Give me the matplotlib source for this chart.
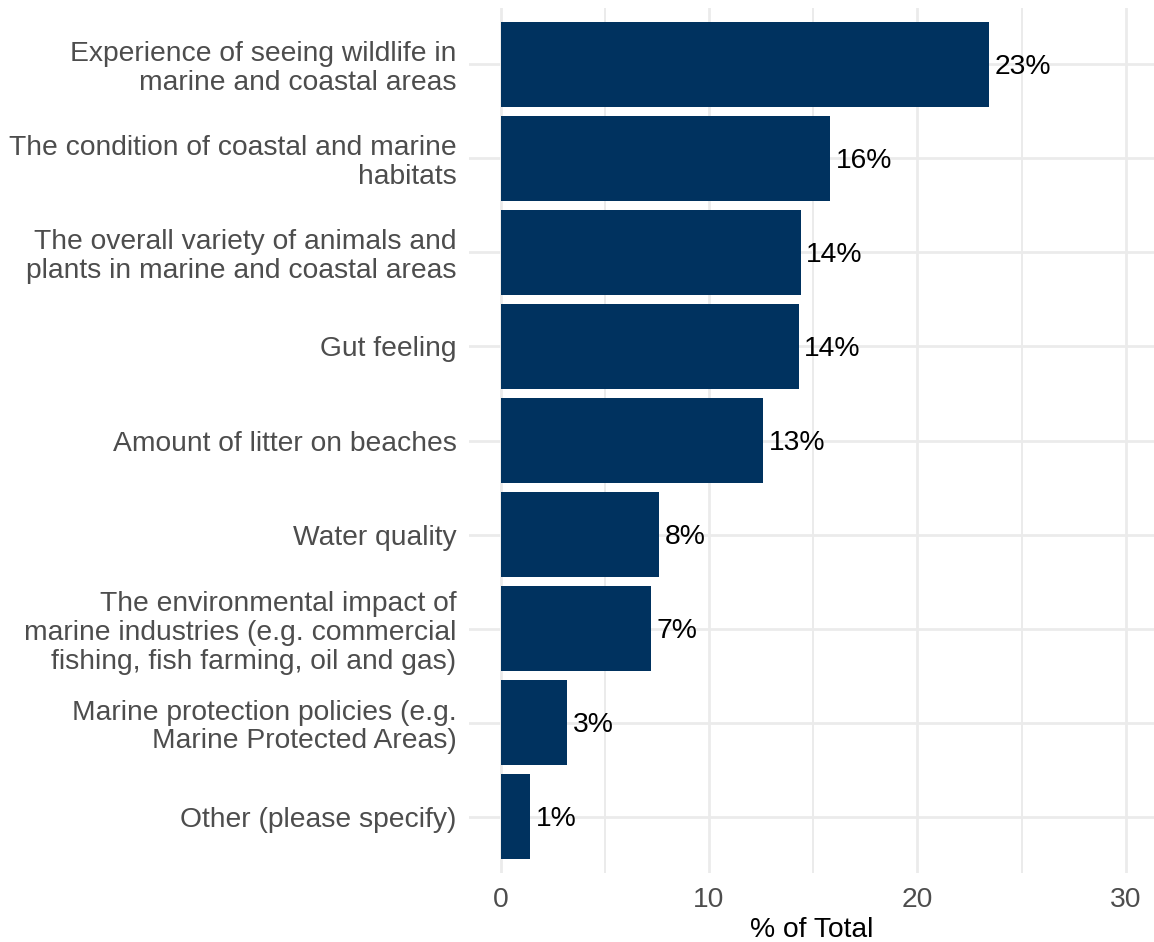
import matplotlib
matplotlib.use("Agg")
import matplotlib.pyplot as plt
from matplotlib.ticker import MultipleLocator

plt.rcParams['font.family'] = ['Liberation Sans', 'DejaVu Sans']

categories = [
    "Experience of seeing wildlife in\nmarine and coastal areas",
    "The condition of coastal and marine\nhabitats",
    "The overall variety of animals and\nplants in marine and coastal areas",
    "Gut feeling",
    "Amount of litter on beaches",
    "Water quality",
    "The environmental impact of\nmarine industries (e.g. commercial\nfishing, fish farming, oil and gas)",
    "Marine protection policies (e.g.\nMarine Protected Areas)",
    "Other (please specify)",
]
percent = [23.45, 15.8, 14.4, 14.3, 12.6, 7.6, 7.2, 3.2, 1.4]
x_ticks = [0, 10, 20, 30]

bar_color = "#00325F"
grid_color = "#EBEBEB"
text_grey = "#4D4D4D"
fs = 20.3

fig = plt.figure(figsize=(11.54, 9.42), dpi=100)
ax = fig.add_axes([469 / 1154, 1 - 873 / 942, 1 - 469 / 1154, (873 - 8) / 942])

pos = list(range(len(categories)))
ax.barh(pos, percent, height=0.9, color=bar_color, zorder=3)

for p, v in zip(pos, percent):
    ax.annotate(f"{round(v):.0f}%", xy=(v, p), xytext=(4, -2),
                textcoords="offset points", va="center", ha="left",
                fontsize=fs, color="black", zorder=4)

ax.set_ylim(len(categories) - 0.4, -0.6)
ax.set_xlim(-1.52, 31.36)
ax.set_yticks(pos)
ax.set_yticklabels(categories, fontsize=fs, color=text_grey, linespacing=1.14)
ax.set_xticks(x_ticks)
ax.set_xticklabels([str(t) for t in x_ticks], fontsize=fs, color=text_grey)
ax.xaxis.set_minor_locator(MultipleLocator(5))
ax.tick_params(axis="both", which="both", length=0)
ax.tick_params(axis="y", pad=9)
ax.tick_params(axis="x", pad=10)

ax.grid(axis="x", which="major", color=grid_color, linewidth=2.0, zorder=0)
ax.grid(axis="x", which="minor", color=grid_color, linewidth=1.4, zorder=0)
ax.grid(axis="y", which="major", color=grid_color, linewidth=2.0, zorder=0)
ax.set_axisbelow(True)
for s in ax.spines.values():
    s.set_visible(False)

ax.set_xlabel("% of Total", fontsize=fs, color="black", labelpad=3)

fig.savefig("out.png", dpi=100, facecolor="white")
